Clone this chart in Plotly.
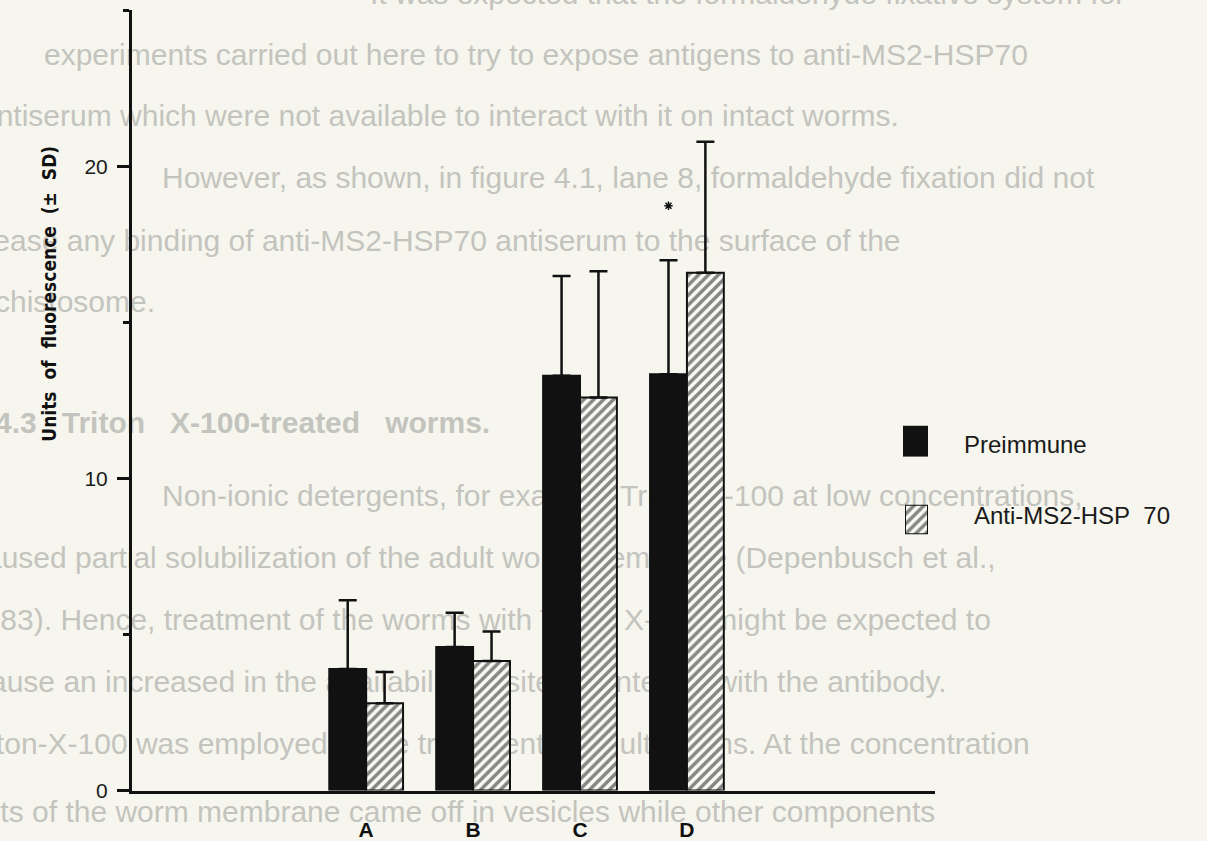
import plotly.graph_objects as go

# ---------------- data ----------------
categories = ["A", "B", "C", "D"]
cat_pos = [1, 2, 3, 4]
preimmune = [3.9, 4.6, 13.3, 13.35]
preimmune_sd = [2.2, 1.1, 3.2, 3.65]
anti_hsp70 = [2.8, 4.15, 12.6, 16.6]
anti_hsp70_sd = [1.0, 0.95, 4.05, 4.2]
y_ticks = [0, 10, 20]
series_names = ["Preimmune", "Anti-MS2-HSP\u00a0\u00a070"]
y_title = "Units\u00a0 of\u00a0 fluorescence\u00a0 (\u00b1\u00a0 SD)"

# faint show-through text of the scanned page
bleed_lines = [
    "It was expected that the formaldehyde fixative system for",
    "experiments carried out here to try to expose antigens to anti-MS2-HSP70",
    "antiserum which were not available to interact with it on intact worms.",
    "However, as shown, in figure 4.1, lane 8, formaldehyde fixation did not",
    "increase any binding of anti-MS2-HSP70 antiserum to the surface of the",
    "schistosome.",
    "<b>4.4.3\u00a0\u00a0\u00a0Triton\u00a0\u00a0\u00a0X-100-treated\u00a0\u00a0\u00a0worms.</b>",
    "Non-ionic detergents, for example Triton X-100 at low concentrations,",
    "caused partial solubilization of the adult worm membrane (Depenbusch et al.,",
    "1983). Hence, treatment of the worms with Triton X-100 might be expected to",
    "cause an increased in the availability of sites to interact with the antibody.",
    "Triton-X-100 was employed in the treatment of adult worms. At the concentration",
    "parts of the worm membrane came off in vesicles while other components",
]
bleed_x = [370, 44, -20, 162, -55, -20, -30, 162, -30, -33, -25, -38, -43]
bleed_y = [-4, 58, 120, 183, 247, 309, 432, 506, 569, 631, 694, 757, 826]

W, H = 1207, 841
BG = "#f6f6ee"

fig = go.Figure()

# background show-through text (base subplot, drawn below the chart)
fig.add_trace(go.Scatter(
    x=bleed_x, y=bleed_y, text=bleed_lines, mode="text",
    textposition="middle right",
    textfont=dict(family="Liberation Sans, Arial", size=30, color="#c4c4be"),
    cliponaxis=True, hoverinfo="skip", showlegend=False,
    xaxis="x", yaxis="y",
))

# chart bars
fig.add_trace(go.Bar(
    x=cat_pos, y=preimmune, name=series_names[0],
    marker=dict(color="#111111", line=dict(color="#111111", width=2)),
    error_y=dict(type="data", array=preimmune_sd, arrayminus=[0] * 4,
                 symmetric=False, color="#111111", thickness=2.5, width=9),
    xaxis="x2", yaxis="y2", showlegend=False,
))
fig.add_trace(go.Bar(
    x=cat_pos, y=anti_hsp70, name=series_names[1],
    marker=dict(color="#ffffff", line=dict(color="#111111", width=2),
                pattern=dict(shape="/", fgcolor="#111111", bgcolor="#fbfbf6",
                             size=7, solidity=0.5)),
    error_y=dict(type="data", array=anti_hsp70_sd, arrayminus=[0] * 4,
                 symmetric=False, color="#111111", thickness=2.5, width=9),
    xaxis="x2", yaxis="y2", showlegend=False,
))

# significance marker above D preimmune
bargap = 0.31
offset = (1 - bargap) / 4
fig.add_trace(go.Scatter(
    x=[cat_pos[3] - offset], y=[preimmune[3] + preimmune_sd[3] + 1.75],
    mode="markers", marker=dict(symbol="asterisk-open", size=7, color="#111111",
                                line=dict(color="#111111", width=1.5)),
    xaxis="x2", yaxis="y2", showlegend=False, hoverinfo="skip",
))

# legend swatches (own small axes)
fig.add_trace(go.Bar(x=[0], y=[1], width=[1],
                     marker=dict(color="#111111", line=dict(color="#111111", width=1)),
                     xaxis="x3", yaxis="y3", showlegend=False, hoverinfo="skip"))
fig.add_trace(go.Bar(x=[0], y=[1], width=[1],
                     marker=dict(color="#ffffff", line=dict(color="#111111", width=2),
                                 pattern=dict(shape="/", fgcolor="#111111",
                                              bgcolor="#fbfbf6", size=7, solidity=0.5)),
                     xaxis="x4", yaxis="y4", showlegend=False, hoverinfo="skip"))


def px_x(p):
    return p / W


def px_y(p):
    return 1 - p / H


axis_x0, axis_x1 = 132, 935
axis_top, axis_bottom = 10, 802

hidden = dict(visible=False, fixedrange=True)

fig.update_layout(
    width=W, height=H,
    margin=dict(l=0, r=0, t=0, b=0),
    paper_bgcolor=BG, plot_bgcolor="rgba(0,0,0,0)",
    barmode="group", bargap=bargap, bargroupgap=0,
    font=dict(family="Liberation Sans, Arial", color="#1a1a1a"),
    xaxis=dict(domain=[0, 1], range=[0, W], **hidden),
    yaxis=dict(domain=[0, 1], range=[H, 0], **hidden),
    xaxis2=dict(
        domain=[px_x(axis_x0), px_x(axis_x1)], anchor="y2",
        range=[-1.19, 6.32], tickvals=cat_pos, ticktext=categories,
        showline=True, linecolor="#111111", linewidth=3,
        ticks="", ticklabelstandoff=18, showgrid=False, zeroline=False,
        tickfont=dict(size=21, color="#111111",
                      family="Liberation Sans, Arial", weight="bold"),
        fixedrange=True,
    ),
    yaxis2=dict(
        domain=[px_y(axis_bottom), px_y(axis_top)], anchor="x2",
        range=[0, 25.03], tickvals=y_ticks,
        showline=True, linecolor="#111111", linewidth=3,
        ticks="outside", ticklen=12, tickwidth=3, tickcolor="#111111",
        ticklabelstandoff=5,
        minor=dict(ticks="outside", ticklen=6, tickwidth=3, tickcolor="#111111",
                   tick0=5, dtick=10),
        showgrid=False, zeroline=False,
        tickfont=dict(size=21, color="#1a1a1a", family="Liberation Sans, Arial"),
        fixedrange=True,
    ),
    xaxis3=dict(domain=[px_x(903), px_x(928)], anchor="y3", range=[-0.5, 0.5], **hidden),
    yaxis3=dict(domain=[px_y(463), px_y(432)], anchor="x3", range=[0, 1], **hidden),
    xaxis4=dict(domain=[px_x(905), px_x(928)], anchor="y4", range=[-0.5, 0.5], **hidden),
    yaxis4=dict(domain=[px_y(542), px_y(512)], anchor="x4", range=[0, 1], **hidden),
    annotations=[
        dict(text=series_names[0], xref="paper", yref="paper",
             x=px_x(962), y=px_y(451), xanchor="left", yanchor="middle",
             showarrow=False, font=dict(size=24, color="#1a1a1a")),
        dict(text=series_names[1], xref="paper", yref="paper",
             x=px_x(972), y=px_y(523), xanchor="left", yanchor="middle",
             showarrow=False, font=dict(size=24, color="#1a1a1a")),
        dict(text=y_title, xref="paper", yref="paper",
             x=px_x(49), y=px_y(298), xanchor="center", yanchor="middle",
             textangle=-90, showarrow=False,
             font=dict(size=19, color="#111111", weight="bold",
                       family="Liberation Sans Narrow, DejaVu Sans Condensed, Liberation Sans")),
    ],
)

fig.write_html(
    "out.html",
    config={"displayModeBar": False},
    post_script="document.body.style.margin='0';document.body.style.background='%s';" % BG,
)
